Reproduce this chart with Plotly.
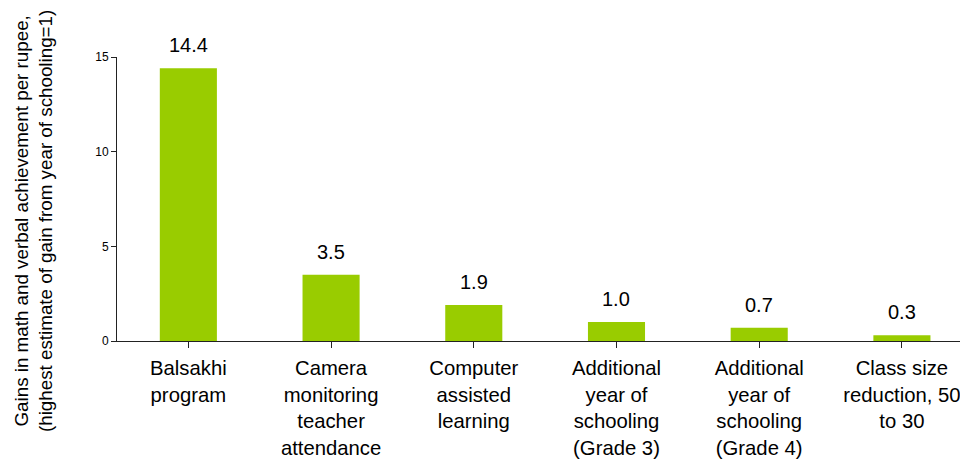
import plotly.graph_objects as go

categories = [
    "Balsakhi<br>program",
    "Camera<br>monitoring<br>teacher<br>attendance",
    "Computer<br>assisted<br>learning",
    "Additional<br>year of<br>schooling<br>(Grade 3)",
    "Additional<br>year of<br>schooling<br>(Grade 4)",
    "Class size<br>reduction, 50<br>to 30",
]
values = [14.4, 3.5, 1.9, 1.0, 0.7, 0.3]
value_labels = ["14.4", "3.5", "1.9", "1.0", "0.7", "0.3"]
y_ticks = [0, 5, 10, 15]

FONT = "Liberation Sans, Arial, sans-serif"
BAR = "#99CC00"

fig = go.Figure()
fig.add_trace(go.Bar(
    x=list(range(len(categories))),
    y=values,
    marker=dict(color=BAR, line=dict(width=0)),
    width=0.4,
    hoverinfo="skip",
))

for i, (v, t) in enumerate(zip(values, value_labels)):
    fig.add_annotation(
        x=i, y=v, text=t, showarrow=False,
        xref="x", yref="y", yanchor="middle", yshift=23,
        font=dict(family=FONT, size=20, color="#000000"),
    )

fig.add_annotation(
    text="Gains in math and verbal achievement per rupee,<br>(highest estimate of gain from year of schooling=1)",
    xref="paper", yref="paper", x=(33 - 117) / 843, y=(341 - 221) / 284,
    xanchor="center", yanchor="middle", textangle=-90, showarrow=False,
    font=dict(family=FONT, size=18.8, color="#000000"),
)

fig.update_layout(
    width=960, height=462,
    margin=dict(l=117, r=0, t=57, b=121, pad=0),
    paper_bgcolor="white", plot_bgcolor="white",
    showlegend=False,
    font=dict(family=FONT, color="#000000"),
    xaxis=dict(
        tickmode="array",
        tickvals=list(range(len(categories))),
        ticktext=categories,
        range=[-0.5, 5.407],
        showgrid=False, zeroline=False,
        showline=True, linecolor="#222222", linewidth=1,
        ticks="outside", ticklen=6, tickcolor="#222222",
        ticklabelstandoff=3,
        ticklabeloverflow="allow",
        tickfont=dict(family=FONT, size=20.3, color="#000000"),
        fixedrange=True,
    ),
    yaxis=dict(
        range=[0, 15],
        tickmode="array", tickvals=y_ticks,
        ticktext=[str(t) for t in y_ticks],
        showgrid=False, zeroline=False,
        showline=True, linecolor="#222222", linewidth=1,
        ticks="outside", ticklen=5, tickcolor="#222222",
        tickfont=dict(family=FONT, size=12, color="#000000"),
        fixedrange=True,
    ),
)

fig.write_html("out.html")
